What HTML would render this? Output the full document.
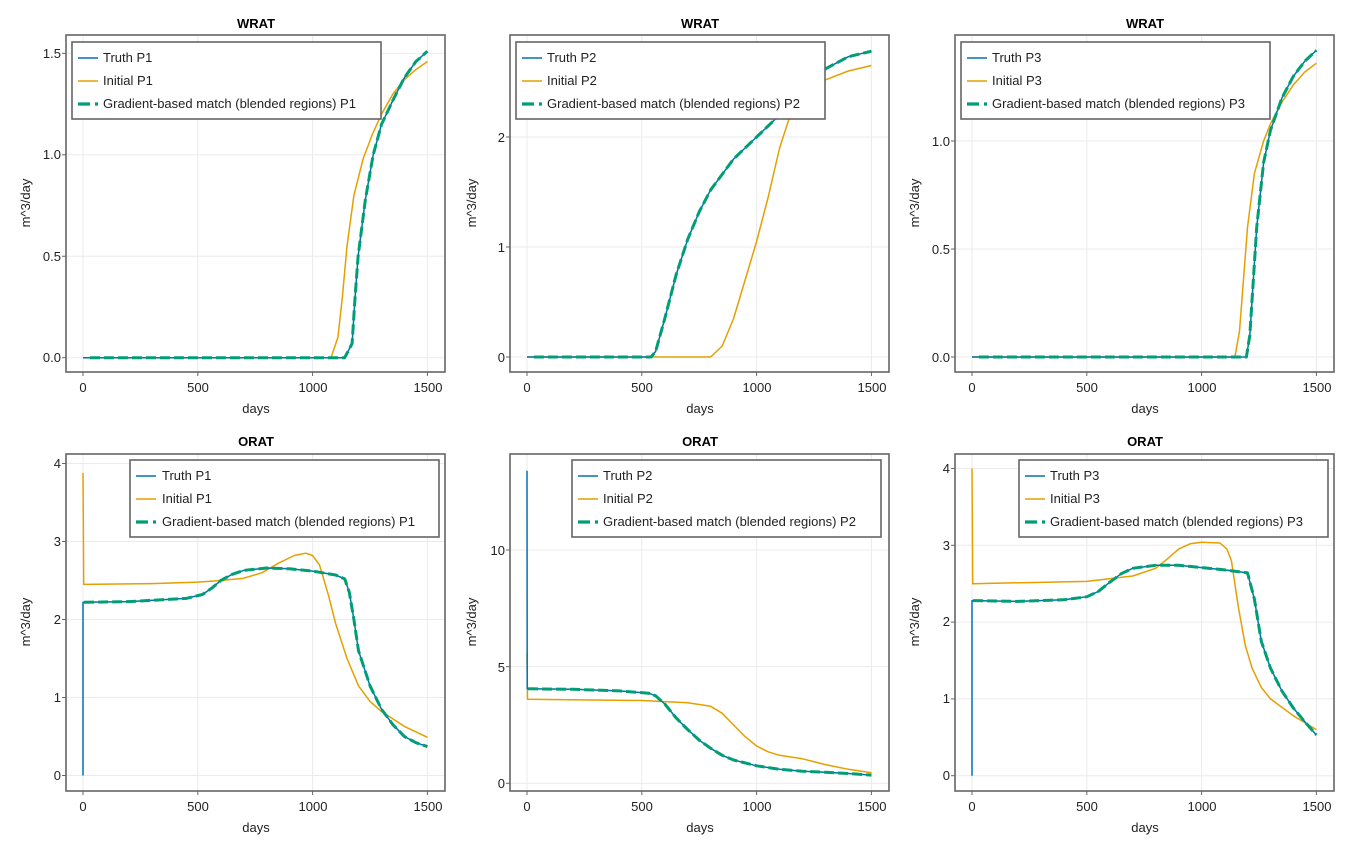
<!DOCTYPE html>
<html><head><meta charset="utf-8"><style>
html,body{margin:0;padding:0;background:#fff;}
svg{display:block;font-family:"Liberation Sans",sans-serif;}
.t{font-weight:bold;font-size:13px;text-anchor:middle}
.tk{font-size:13px;fill:#222}
.xl{font-size:13px;text-anchor:middle;fill:#222}
.lg{font-size:13px;fill:#222}
</style></head><body>
<svg id="s" width="1350" height="850" xmlns="http://www.w3.org/2000/svg">
<g id="plots"></g>
<text class="t" x="256" y="28">WRAT</text>
<text class="t" x="700" y="28">WRAT</text>
<text class="t" x="1145" y="28">WRAT</text>
<text class="t" x="256" y="446">ORAT</text>
<text class="t" x="700" y="446">ORAT</text>
<text class="t" x="1145" y="446">ORAT</text>
<text class="xl" x="256" y="413">days</text>
<text class="xl" x="700" y="413">days</text>
<text class="xl" x="1145" y="413">days</text>
<text class="xl" x="256" y="832">days</text>
<text class="xl" x="700" y="832">days</text>
<text class="xl" x="1145" y="832">days</text>
<text class="xl" transform="translate(30,203) rotate(-90)">m^3/day</text>
<text class="xl" transform="translate(476,203) rotate(-90)">m^3/day</text>
<text class="xl" transform="translate(919,203) rotate(-90)">m^3/day</text>
<text class="xl" transform="translate(30,622) rotate(-90)">m^3/day</text>
<text class="xl" transform="translate(476,622) rotate(-90)">m^3/day</text>
<text class="xl" transform="translate(919,622) rotate(-90)">m^3/day</text>
<g class="xl">
<text x="83" y="392">0</text><text x="198" y="392">500</text><text x="313" y="392">1000</text><text x="428" y="392">1500</text>
<text x="527" y="392">0</text><text x="642" y="392">500</text><text x="757" y="392">1000</text><text x="872" y="392">1500</text>
<text x="972" y="392">0</text><text x="1087" y="392">500</text><text x="1202" y="392">1000</text><text x="1317" y="392">1500</text>
<text x="83" y="811">0</text><text x="198" y="811">500</text><text x="313" y="811">1000</text><text x="428" y="811">1500</text>
<text x="527" y="811">0</text><text x="642" y="811">500</text><text x="757" y="811">1000</text><text x="872" y="811">1500</text>
<text x="972" y="811">0</text><text x="1087" y="811">500</text><text x="1202" y="811">1000</text><text x="1317" y="811">1500</text>
</g>
<g class="tk" text-anchor="end">
<text x="61" y="362">0.0</text><text x="61" y="261">0.5</text><text x="61" y="159">1.0</text><text x="61" y="58">1.5</text>
<text x="505" y="362">0</text><text x="505" y="252">1</text><text x="505" y="142">2</text>
<text x="950" y="362">0.0</text><text x="950" y="254">0.5</text><text x="950" y="146">1.0</text>
<text x="61" y="780">0</text><text x="61" y="702">1</text><text x="61" y="624">2</text><text x="61" y="546">3</text><text x="61" y="468">4</text>
<text x="505" y="788">0</text><text x="505" y="672">5</text><text x="505" y="555">10</text>
<text x="950" y="780">0</text><text x="950" y="703">1</text><text x="950" y="626">2</text><text x="950" y="550">3</text><text x="950" y="473">4</text>
</g>
<g id="legs"></g>
<g class="lg">
<text x="103" y="62">Truth P1</text><text x="103" y="85">Initial P1</text><text x="103" y="108">Gradient-based match (blended regions) P1</text>
<text x="547" y="62">Truth P2</text><text x="547" y="85">Initial P2</text><text x="547" y="108">Gradient-based match (blended regions) P2</text>
<text x="992" y="62">Truth P3</text><text x="992" y="85">Initial P3</text><text x="992" y="108">Gradient-based match (blended regions) P3</text>
<text x="162" y="480">Truth P1</text><text x="162" y="503">Initial P1</text><text x="162" y="526">Gradient-based match (blended regions) P1</text>
<text x="603" y="480">Truth P2</text><text x="603" y="503">Initial P2</text><text x="603" y="526">Gradient-based match (blended regions) P2</text>
<text x="1050" y="480">Truth P3</text><text x="1050" y="503">Initial P3</text><text x="1050" y="526">Gradient-based match (blended regions) P3</text>
</g>
</svg>
<script>
const NS="http://www.w3.org/2000/svg";
const B="#0072B2",O="#E69F00",G="#009E73";
function el(p,n,a){const e=document.createElementNS(NS,n);for(const k in a)e.setAttribute(k,a[k]);p.appendChild(e);return e;}
const plots=document.getElementById("plots"),legs=document.getElementById("legs");
const panels=[
 {bx:66,by:35,x0:83,y0:357.7,sy:202.9,yt:[0,0.5,1,1.5],
  T:[[0,0],[1140,0],[1172,0.07],[1185,0.3],[1198,0.5],[1230,0.78],[1264,1.0],[1300,1.15],[1350,1.27],[1400,1.38],[1450,1.46],[1500,1.51]],
  I:[[0,0],[1080,0],[1110,0.1],[1130,0.3],[1150,0.55],[1180,0.8],[1220,0.98],[1260,1.1],[1300,1.2],[1350,1.3],[1400,1.37],[1450,1.42],[1500,1.46]],lg:[72,42],gs:30},
 {bx:510,by:35,x0:527,y0:357,sy:110,yt:[0,1,2],
  T:[[0,0],[540,0],[560,0.05],[600,0.35],[650,0.75],[700,1.07],[750,1.32],[800,1.52],[900,1.8],[1000,2.0],[1100,2.2],[1200,2.42],[1300,2.62],[1400,2.73],[1500,2.78]],
  I:[[0,0],[800,0],[850,0.1],[900,0.35],[950,0.7],[1000,1.05],[1050,1.45],[1100,1.9],[1150,2.22],[1200,2.4],[1300,2.52],[1400,2.6],[1500,2.65]],lg:[516,42],gs:30},
 {bx:955,by:35,x0:972,y0:357,sy:216,yt:[0,0.5,1],
  T:[[0,0],[1195,0],[1210,0.1],[1240,0.6],[1270,0.9],[1300,1.05],[1350,1.2],[1400,1.3],[1450,1.37],[1500,1.42]],
  I:[[0,0],[1145,0],[1165,0.12],[1200,0.6],[1230,0.85],[1270,1.0],[1300,1.08],[1350,1.18],[1400,1.26],[1450,1.32],[1500,1.36]],lg:[961,42],gs:30},
 {bx:66,by:454,x0:83,y0:775.5,sy:78,yt:[0,1,2,3,4],
  T:[[0,0],[0,2.22],[200,2.23],[450,2.27],[520,2.32],[560,2.4],[600,2.5],[650,2.58],[700,2.63],[800,2.66],[900,2.65],[1000,2.62],[1100,2.57],[1140,2.52],[1160,2.35],[1180,2.0],[1200,1.6],[1250,1.15],[1300,0.85],[1350,0.65],[1400,0.5],[1450,0.42],[1500,0.37]],
  I:[[0,3.88],[3,2.45],[300,2.46],[500,2.48],[600,2.5],[700,2.53],[780,2.6],[850,2.72],[920,2.82],[970,2.85],[1000,2.82],[1030,2.7],[1070,2.3],[1100,1.95],[1150,1.5],[1200,1.15],[1250,0.95],[1300,0.82],[1400,0.63],[1500,0.49]],lg:[130,460],gs:5},
 {bx:510,by:454,x0:527,y0:783.3,sy:23.33,yt:[0,5,10],
  T:[[0,13.4],[1,4.05],[200,4.03],[400,3.96],[530,3.86],[560,3.75],[600,3.4],[650,2.8],[700,2.3],[750,1.85],[800,1.5],[850,1.2],[900,1.0],[1000,0.75],[1100,0.6],[1200,0.52],[1300,0.47],[1400,0.42],[1500,0.35]],
  I:[[0,5.6],[2,3.6],[500,3.55],[700,3.45],[800,3.3],[850,3.0],[900,2.5],[950,2.0],[1000,1.6],[1050,1.35],[1100,1.2],[1200,1.05],[1300,0.8],[1400,0.6],[1500,0.45]],lg:[572,460],gs:5},
 {bx:955,by:454,x0:972,y0:775.7,sy:76.8,yt:[0,1,2,3,4],
  T:[[0,0],[0,2.28],[200,2.27],[400,2.29],[500,2.33],[550,2.4],[600,2.52],[650,2.63],[700,2.7],[800,2.74],[900,2.74],[1000,2.71],[1100,2.68],[1200,2.64],[1230,2.3],[1260,1.75],[1300,1.4],[1350,1.1],[1400,0.88],[1450,0.7],[1500,0.53]],
  I:[[0,4.0],[3,2.5],[500,2.53],[700,2.6],[800,2.7],[850,2.82],[900,2.95],[950,3.02],[1000,3.04],[1080,3.03],[1110,2.95],[1130,2.8],[1160,2.2],[1190,1.7],[1220,1.4],[1260,1.15],[1300,1.0],[1400,0.78],[1500,0.6]],lg:[1019,460],gs:5}
];
const W=379,H=337,SX=0.2296;
function interp(pts,d){for(let i=1;i<pts.length;i++){if(pts[i][0]>=d&&pts[i][0]>pts[i-1][0]){const a=pts[i-1],b=pts[i];return a[1]+(b[1]-a[1])*(d-a[0])/(b[0]-a[0]);}}return pts[pts.length-1][1];}
panels.forEach(p=>{
 const X=d=>p.x0+d*SX, Y=v=>p.y0-v*p.sy;
 [0,500,1000,1500].forEach(d=>el(plots,"line",{x1:X(d),x2:X(d),y1:p.by,y2:p.by+H,stroke:"#ebebeb"}));
 p.yt.forEach(v=>el(plots,"line",{x1:p.bx,x2:p.bx+W,y1:Y(v),y2:Y(v),stroke:"#ebebeb"}));
 const path=pts=>"M"+pts.map(q=>X(q[0]).toFixed(1)+","+Y(q[1]).toFixed(1)).join("L");
 el(plots,"path",{d:path(p.I),fill:"none",stroke:O,"stroke-width":1.5,"stroke-linejoin":"round"});
 el(plots,"path",{d:path(p.T),fill:"none",stroke:B,"stroke-width":1.5,"stroke-linejoin":"round"});
 let gp=p.T.filter(q=>q[0]>p.gs); gp.unshift([p.gs,interp(p.T,p.gs)]);
 el(plots,"path",{d:path(gp),fill:"none",stroke:G,"stroke-width":3,"stroke-dasharray":"10 4","stroke-linejoin":"round"});
 el(plots,"rect",{x:p.bx,y:p.by,width:W,height:H,fill:"none",stroke:"#666","stroke-width":1.6});
 [0,500,1000,1500].forEach(d=>el(plots,"line",{x1:X(d),x2:X(d),y1:p.by+H,y2:p.by+H+4,stroke:"#666"}));
 p.yt.forEach(v=>el(plots,"line",{x1:p.bx-4,x2:p.bx,y1:Y(v),y2:Y(v),stroke:"#666"}));
 const [lx,ly]=p.lg;
 el(legs,"rect",{x:lx,y:ly,width:309,height:77,fill:"#fff",stroke:"#666","stroke-width":1.6});
 el(legs,"line",{x1:lx+6,x2:lx+26,y1:ly+16,y2:ly+16,stroke:B,"stroke-width":1.5});
 el(legs,"line",{x1:lx+6,x2:lx+26,y1:ly+39,y2:ly+39,stroke:O,"stroke-width":1.5});
 el(legs,"line",{x1:lx+6,x2:lx+26,y1:ly+62,y2:ly+62,stroke:G,"stroke-width":3.2,"stroke-dasharray":"12 5 3 10"});
});
</script>
</body></html>
